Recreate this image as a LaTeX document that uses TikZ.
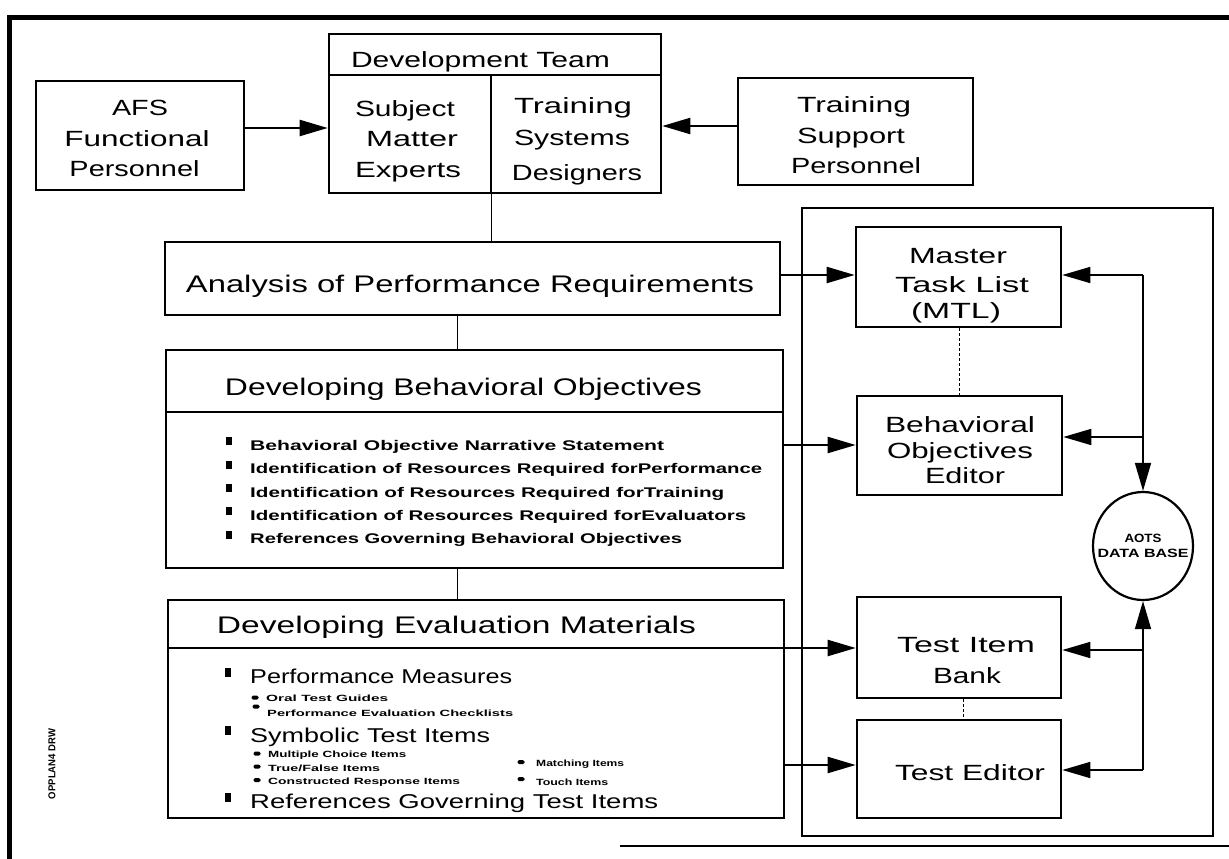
\documentclass[tikz,border=0pt]{standalone}
\usepackage{fontspec}
\setmainfont{Liberation Sans}
\usetikzlibrary{arrows.meta,shapes.geometric}
\newcommand\sw[2]{\resizebox{#1pt}{\height}{#2}}
\tikzset{
  box/.style={draw, line width=2.6pt, rectangle, inner sep=0pt},
  thinbox/.style={draw, line width=1.4pt, rectangle, inner sep=0pt},
  txt/.style={inner sep=0pt, anchor=base, font=\fontsize{22}{22}\selectfont},
  ttl/.style={inner sep=0pt, anchor=base, font=\fontsize{24}{24}\selectfont},
  bitem/.style={inner sep=0pt, anchor=base west, font=\bfseries\fontsize{14}{14}\selectfont},
  eitem/.style={inner sep=0pt, anchor=base west, font=\fontsize{20}{20}\selectfont},
  sitem/.style={inner sep=0pt, anchor=base west, font=\bfseries\fontsize{9}{9}\selectfont},
  bul/.style={fill, inner sep=0pt, minimum width=6pt, minimum height=8pt},
  sbul/.style={fill, inner sep=0pt, minimum width=7pt, minimum height=4pt, rounded corners=1.5pt},
  arr/.style={line width=2.2pt, -{Triangle[length=28pt,width=16pt]}},
  link/.style={line width=1pt},
  bus/.style={line width=1.4pt},
  dlink/.style={line width=0.8pt, densely dashed},
}
\begin{document}
\begin{tikzpicture}[x=1pt,y=-1pt]
\useasboundingbox (0,0) rectangle (1229,859);
% outer frame
\draw[line width=5pt] (9,859) -- (9,18) -- (1229,18);
\draw[line width=2.6pt] (620,846) -- (1229,846);
\node[rotate=90, inner sep=0pt, font=\bfseries\fontsize{10}{10}\selectfont] (fname) at (52,764) {\sw{70}{OPPLAN4 DRW}};

% AFS
\node[box, minimum width=208pt, minimum height=109pt] (afs) at (140,135.5) {};
\node[txt] (afs1) at (140,115) {\sw{56}{AFS}};
\node[txt] (afs2) at (137,146) {\sw{145}{Functional}};
\node[txt] (afs3) at (134.5,176) {\sw{130}{Personnel}};

% Development team
\node[box, minimum width=332pt, minimum height=159pt] (dev) at (495,113.5) {};
\draw[line width=2.4pt] (329,75) -- (661,75);
\draw[line width=1.2pt] (491,75) -- (491,193);
\node[txt] (dev0) at (480.5,68) {\sw{259}{Development Team}};
\node[txt] (sme1) at (405,117) {\sw{100}{Subject}};
\node[txt] (sme2) at (412,146) {\sw{92}{Matter}};
\node[txt] (sme3) at (408,177) {\sw{106}{Experts}};
\node[txt] (tsd1) at (573,113) {\sw{118}{Training}};
\node[txt] (tsd2) at (572,145) {\sw{116}{Systems}};
\node[txt] (tsd3) at (577,180) {\sw{130}{Designers}};

% Training support
\node[box, minimum width=235pt, minimum height=107pt] (tsp) at (855.5,131.5) {};
\node[txt] (tsp1) at (854,112) {\sw{114}{Training}};
\node[txt] (tsp2) at (851,143) {\sw{108}{Support}};
\node[txt] (tsp3) at (856,173) {\sw{130}{Personnel}};

% Analysis
\node[box, minimum width=615pt, minimum height=73pt] (ana) at (472.5,278.5) {};
\node[ttl] (ana1) at (470,292) {\sw{568}{Analysis of Performance Requirements}};

% Developing Behavioral Objectives
\node[box, minimum width=617pt, minimum height=218pt] (dbo) at (474.5,459) {};
\draw[line width=2.2pt] (166,412) -- (783,412);
\node[ttl] (dbo0) at (463.5,395) {\sw{477}{Developing Behavioral Objectives}};
\node[bul] (db1) at (229,441) {};
\node[bul] (db2) at (229,464.5) {};
\node[bul] (db3) at (229,488) {};
\node[bul] (db4) at (229,511) {};
\node[bul] (db5) at (229,534.5) {};
\node[bitem] (dbt1) at (250,450) {\sw{414}{Behavioral Objective Narrative Statement}};
\node[bitem] (dbt2) at (250,473.5) {\sw{512}{Identification of Resources Required forPerformance}};
\node[bitem] (dbt3) at (250,497) {\sw{474}{Identification of Resources Required forTraining}};
\node[bitem] (dbt4) at (250,520) {\sw{496}{Identification of Resources Required forEvaluators}};
\node[bitem] (dbt5) at (250,543.5) {\sw{432}{References Governing Behavioral Objectives}};

% Developing Evaluation Materials
\node[box, minimum width=616pt, minimum height=218pt] (dem) at (476,709) {};
\draw[line width=2.2pt] (168,648) -- (784,648);
\node[ttl] (dem0) at (456.5,633) {\sw{479}{Developing Evaluation Materials}};
\node[bul, minimum height=9pt] (eb1) at (228,672) {};
\node[eitem] (et1) at (250,683) {\sw{262}{Performance Measures}};
\node[sbul] (es1) at (255,697.5) {};
\node[sitem] (est1) at (266,701) {\sw{122}{Oral Test Guides}};
\node[sbul] (es2) at (256,706.5) {};
\node[sitem] (est2) at (267,716) {\sw{246}{Performance Evaluation Checklists}};
\node[bul, minimum height=9pt] (eb2) at (228,730) {};
\node[eitem] (et2) at (250,742) {\sw{240}{Symbolic Test Items}};
\node[sbul] (es3) at (257,753.5) {};
\node[sitem] (est3) at (268,757) {\sw{138}{Multiple Choice Items}};
\node[sbul] (es4) at (257,766.5) {};
\node[sitem] (est4) at (268,771) {\sw{112}{True/False Items}};
\node[sbul] (es5) at (257,780) {};
\node[sitem] (est5) at (268,784) {\sw{192}{Constructed Response Items}};
\node[sbul] (es6) at (521,762) {};
\node[sitem] (est6) at (536,766) {\sw{88}{Matching Items}};
\node[sbul] (es7) at (521,779) {};
\node[sitem] (est7) at (536,785) {\sw{72}{Touch Items}};
\node[bul, minimum height=9pt] (eb3) at (228,797) {};
\node[eitem] (et3) at (250,808) {\sw{408}{References Governing Test Items}};

% right container
\node[thinbox, minimum width=411pt, minimum height=628pt] (cont) at (1007.5,522) {};
\node[box, minimum width=205pt, minimum height=100pt] (mtl) at (958.5,277) {};
\node[txt] (mtl1) at (958,263) {\sw{98}{Master}};
\node[txt] (mtl2) at (962,292) {\sw{134}{Task List}};
\node[txt] (mtl3) at (956,318) {\sw{90}{(MTL)}};
\node[box, minimum width=205pt, minimum height=99pt] (boe) at (959.5,445.5) {};
\node[txt] (boe1) at (960,432) {\sw{150}{Behavioral}};
\node[txt] (boe2) at (960,458) {\sw{146}{Objectives}};
\node[txt] (boe3) at (965,483) {\sw{80}{Editor}};
\node[box, minimum width=204pt, minimum height=101pt] (tib) at (959,647.5) {};
\node[txt] (tib1) at (966,652) {\sw{138}{Test Item}};
\node[txt] (tib2) at (967,683) {\sw{68}{Bank}};
\node[box, minimum width=204pt, minimum height=98pt] (ted) at (959,769) {};
\node[txt] (ted1) at (970,780) {\sw{150}{Test Editor}};
\node[ellipse, draw, line width=2.2pt, minimum width=100pt, minimum height=108pt, inner sep=0pt] (db) at (1143,546) {};
\node[inner sep=0pt, anchor=base, font=\bfseries\fontsize{12}{12}\selectfont] (db1t) at (1143,542) {\sw{37}{AOTS}};
\node[inner sep=0pt, anchor=base, font=\bfseries\fontsize{12}{12}\selectfont] (db2t) at (1143,557) {\sw{91}{DATA BASE}};

% helper coordinates
\coordinate (h1) at (0,128);
\coordinate (h2) at (0,126);
\coordinate (vx1) at (491,0);
\coordinate (vx2) at (457,0);
\coordinate (h3) at (0,275);
\coordinate (h4) at (0,445);
\coordinate (h5) at (0,648);
\coordinate (h6) at (0,765);
\coordinate (b1) at (1143,275);
\coordinate (b2) at (1143,437);
\coordinate (b3) at (1143,650);
\coordinate (b4) at (1143,770);
\coordinate (vx3) at (959,0);
\coordinate (vx4) at (963,0);

% connectors
\draw[arr] (afs.east |- h1) -- (dev.west |- h1);
\draw[arr] (tsp.west |- h2) -- (dev.east |- h2);
\draw[link] (dev.south -| vx1) -- (ana.north -| vx1);
\draw[link] (ana.south -| vx2) -- (dbo.north -| vx2);
\draw[link] (dbo.south -| vx2) -- (dem.north -| vx2);
\draw[arr] (ana.east |- h3) -- (mtl.west |- h3);
\draw[arr] (dbo.east |- h4) -- (boe.west |- h4);
\draw[arr] (dem.east |- h5) -- (tib.west |- h5);
\draw[arr] (dem.east |- h6) -- (ted.west |- h6);
\draw[dlink] (mtl.south -| vx3) -- (boe.north -| vx3);
\draw[dlink] (tib.south -| vx4) -- (ted.north -| vx4);
\draw[bus] (b1) -- (b2);
\draw[bus] (b3) -- (b4);
\draw[arr, line width=1.6pt] (b1) -- (mtl.east |- b1);
\draw[arr, line width=1.6pt] (b2) -- (boe.east |- b2);
\draw[arr, line width=1.6pt] (b2) -- (db.north);
\draw[arr, line width=1.6pt] (b3) -- (db.south);
\draw[arr, line width=1.6pt] (b3) -- (tib.east |- b3);
\draw[arr, line width=1.6pt] (b4) -- (ted.east |- b4);
\end{tikzpicture}
\end{document}
